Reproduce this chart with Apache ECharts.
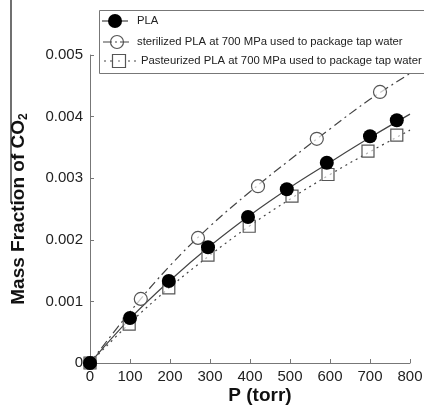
<!DOCTYPE html>
<html>
<head>
<meta charset="utf-8">
<script src="https://cdn.jsdelivr.net/npm/echarts@6/dist/echarts.min.js"></script>
<style>html,body{margin:0;padding:0;background:#fff;}#c{width:424px;height:405px;}</style>
</head>
<body>
<div id="c"></div>
<script>
// Measured points
const plaData = [[0,0],[100,0.00073],[197,0.00133],[295,0.00188],[395,0.00237],[492,0.00282],[592,0.00325],[700,0.00368],[767,0.00394]];
const sterData = [[0,0],[127,0.00104],[270,0.00203],[420,0.00287],[567,0.00364],[725,0.00440]];
const pastData = [[0,0],[98,0.00063],[197,0.00122],[295,0.00175],[398,0.00222],[505,0.00271],[595,0.00306],[695,0.00344],[767,0.00370]];
// Fitted curves
const fitX = [0,100,200,300,400,500,600,700,800];
const fitPLA = [0,0.00072,0.00134,0.00190,0.00240,0.00285,0.00326,0.00366,0.00404];
const fitSter = [0,0.00083,0.00158,0.00222,0.00278,0.00330,0.00380,0.00428,0.00470];
const fitPast = [0,0.00065,0.00123,0.00175,0.00223,0.00266,0.00306,0.00343,0.00378];
const xTicks = [0,800,100];
const yTicks = [0,0.005,0.001];
const names = ['PLA','sterilized PLA at 700 MPa used to package tap water','Pasteurized PLA at 700 MPa used to package tap water'];

const FONT = 'Liberation Sans';
const lineCol = '#444';

const chart = echarts.init(document.getElementById('c'), null, {renderer:'canvas'});
chart.setOption({
  animation:false,
  backgroundColor:'#fff',
  grid:{left:90, right:14, top:55, bottom:42, containLabel:false, outerBoundsMode:'none'},
  xAxis:{
    type:'value', min:xTicks[0], max:xTicks[1], interval:xTicks[2],
    name:'P (torr)', nameLocation:'middle', nameGap:23, nameMoveOverlap:false,
    nameTextStyle:{fontFamily:FONT, fontWeight:'bold', fontSize:19, color:'#111', padding:[0,0,0,20]},
    axisLine:{lineStyle:{color:'#777', width:1}},
    axisTick:{inside:true, length:4, lineStyle:{color:'#777'}},
    axisLabel:{fontFamily:FONT, fontSize:15, color:'#222', margin:6},
    splitLine:{show:false}
  },
  yAxis:{
    type:'value', min:yTicks[0], max:yTicks[1], interval:yTicks[2],
    name:'Mass Fraction of CO{s|2}', nameLocation:'middle', nameGap:60,
    nameTextStyle:{fontFamily:FONT, fontWeight:'bold', fontSize:19, color:'#111',
      rich:{s:{fontFamily:FONT, fontWeight:'bold', fontSize:12, color:'#111', verticalAlign:'bottom', padding:[10,0,0,0]}}},
    axisLine:{show:true, lineStyle:{color:'#777', width:1}},
    axisTick:{show:true, inside:true, length:4, lineStyle:{color:'#777'}},
    axisLabel:{fontFamily:FONT, fontSize:15, color:'#222', margin:7,
      formatter:v => v===0 ? '0' : v.toFixed(3)},
    splitLine:{show:false}
  },
  series:[
    {type:'line', data:fitX.map((x,i)=>[x, fitPast[i]]), smooth:0.4, showSymbol:false,
      lineStyle:{color:lineCol, width:1.2, type:[2,4]}, z:1, silent:true},
    {type:'line', data:fitX.map((x,i)=>[x, fitSter[i]]), smooth:0.4, showSymbol:false,
      lineStyle:{color:lineCol, width:1.2, type:[9,4,2,4]}, z:1, silent:true},
    {type:'line', data:fitX.map((x,i)=>[x, fitPLA[i]]), smooth:0.4, showSymbol:false,
      lineStyle:{color:lineCol, width:1.2, type:'solid'}, z:1, silent:true},
    {name:names[2], type:'scatter', data:pastData, symbol:'rect', symbolSize:12,
      itemStyle:{color:'rgba(255,255,255,0.6)', borderColor:'#555', borderWidth:1.2, opacity:1}, z:2},
    {name:names[1], type:'scatter', data:sterData, symbol:'circle', symbolSize:13,
      itemStyle:{color:'rgba(255,255,255,0.7)', borderColor:'#555', borderWidth:1.2, opacity:1}, z:3},
    {name:names[0], type:'scatter', data:plaData, symbol:'circle', symbolSize:14,
      itemStyle:{color:'#000', borderWidth:0, opacity:1}, z:4}
  ],
  graphic:[
    {type:'line', shape:{x1:11, y1:0, x2:11, y2:203}, style:{stroke:'#111', lineWidth:1.2}, z:10},
    {type:'rect', shape:{x:99.5, y:10.5, width:330, height:63}, style:{fill:'#fff', lineWidth:0}, z:10},
    {type:'polyline', shape:{points:[[430,10.5],[99.5,10.5],[99.5,73.5],[430,73.5]]}, style:{fill:null, stroke:'#777', lineWidth:1}, z:11},
    // PLA legend item
    {type:'line', shape:{x1:102, y1:21, x2:128, y2:21}, style:{stroke:lineCol, lineWidth:1.2}, z:11},
    {type:'circle', shape:{cx:115, cy:21, r:7}, style:{fill:'#000'}, z:12},
    {type:'text', x:137, y:21, style:{text:names[0], fontFamily:FONT, fontSize:11.3, fill:'#222', verticalAlign:'middle'}, z:12},
    // sterilized legend item
    {type:'line', shape:{x1:103, y1:42, x2:130, y2:42}, style:{stroke:lineCol, lineWidth:1.2, lineDash:[9,3,2,3]}, z:11},
    {type:'circle', shape:{cx:117, cy:42, r:6.5}, style:{fill:'rgba(255,255,255,0)', stroke:'#555', lineWidth:1.2}, z:12},
    {type:'text', x:137, y:42, style:{text:names[1], fontFamily:FONT, fontSize:11.3, fill:'#222', verticalAlign:'middle'}, z:12},
    // pasteurized legend item
    {type:'line', shape:{x1:104, y1:61, x2:138, y2:61}, style:{stroke:lineCol, lineWidth:1.2, lineDash:[2,4]}, z:11},
    {type:'rect', shape:{x:112.5, y:54.5, width:13, height:13}, style:{fill:'#fff', stroke:'#555', lineWidth:1.2}, z:12},
    {type:'circle', shape:{cx:119, cy:61, r:0.8}, style:{fill:'#555'}, z:13},
    {type:'text', x:141, y:61, style:{text:names[2], fontFamily:FONT, fontSize:11.3, fill:'#222', verticalAlign:'middle'}, z:12}
  ]
});
</script>
</body>
</html>
